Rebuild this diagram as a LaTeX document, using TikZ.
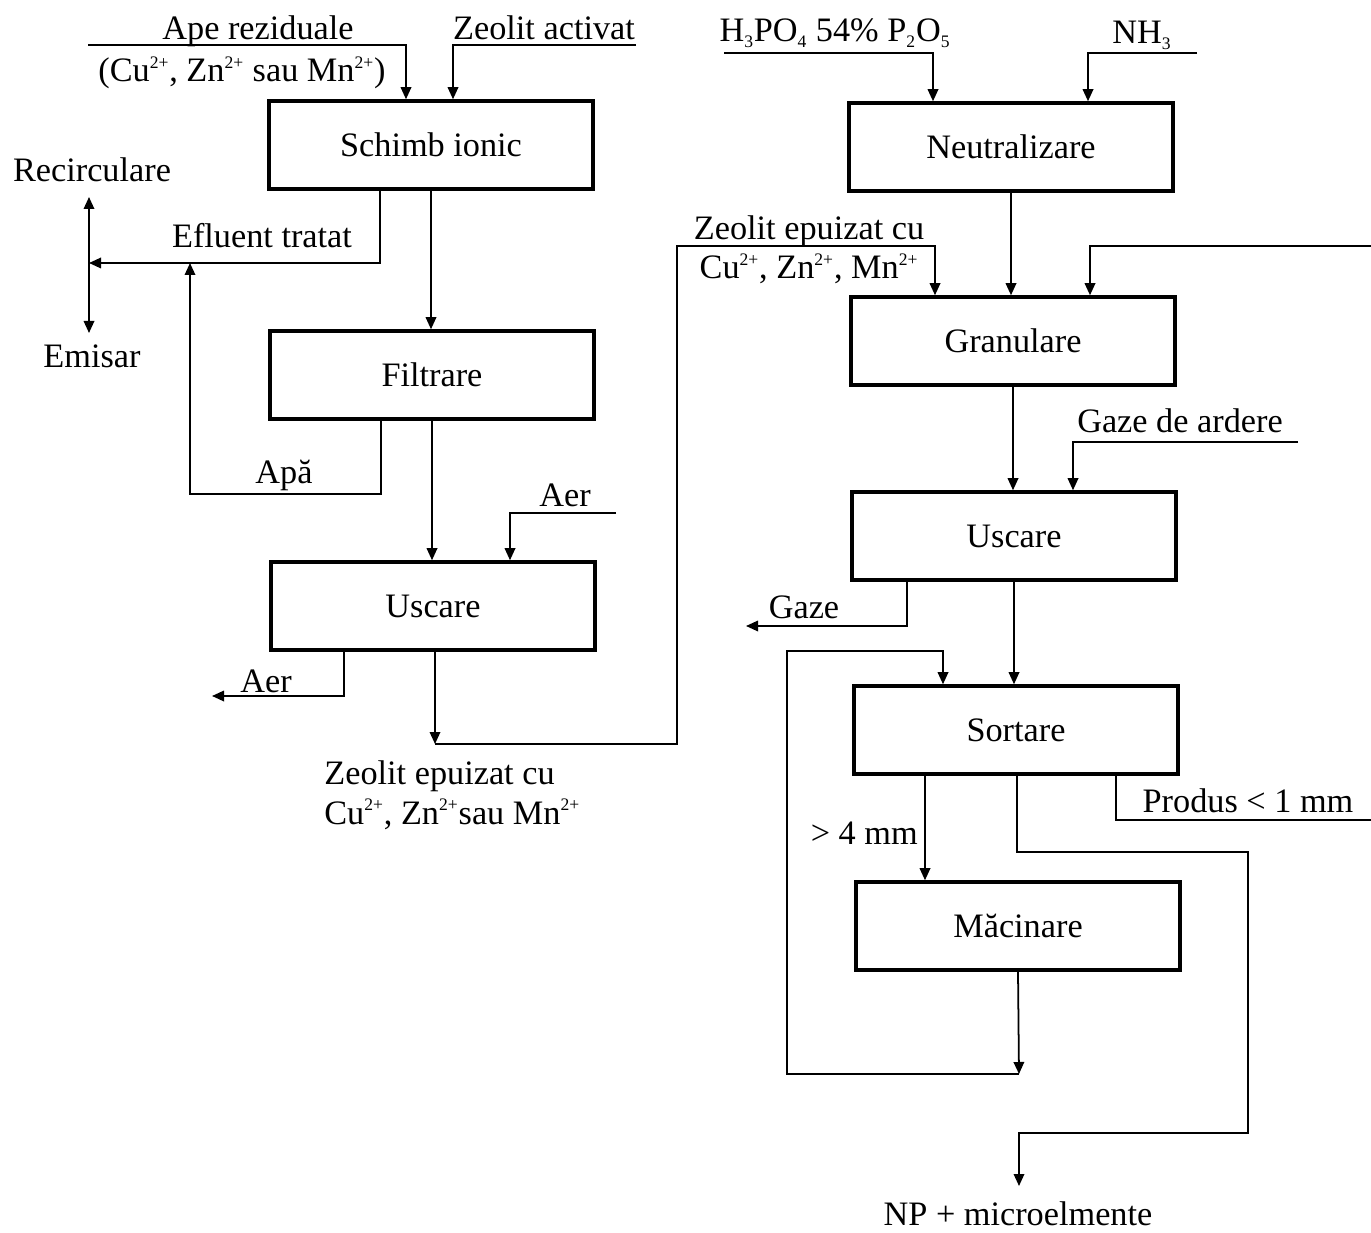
\documentclass[tikz,border=0pt]{standalone}
\usepackage{fontspec}
\setmainfont{Liberation Serif}
\usetikzlibrary{arrows.meta}
\newcommand\chg[1]{\textsuperscript{\fontsize{10}{10}\selectfont #1}}
\newcommand\idx[1]{\textsubscript{\fontsize{10}{10}\selectfont #1}}
\tikzset{
  txt/.style={font=\fontsize{19.5}{22}\selectfont},
  proc/.style={txt, draw, line width=2pt, minimum width=64.8mm, minimum height=17.6mm, inner sep=2pt},
  lbl/.style={txt, inner sep=0pt},
  flow/.style={line width=1pt},
  arr/.style={flow, -{Triangle[length=2.4mm, width=2.1mm]}},
}

\begin{document}
\begin{tikzpicture}[x=0.2mm, y=-0.2mm]
  \useasboundingbox (0,0) rectangle (1371,1233);

  % zeolite line
  \foreach \nm/\x/\y/\tx in {schimb/431/145/Schimb ionic, filtr/432/375/Filtrare, uscz/433/606/Uscare}
    \node[proc] (\nm) at (\x,\y) {\tx};
  % NP fertiliser line
  \foreach \nm/\x/\y/\tx in {neutr/1011/147/Neutralizare, gran/1013/341/Granulare, uscg/1014/536/Uscare, sort/1016/730/Sortare, macin/1018/926/Măcinare}
    \node[proc] (\nm) at (\x,\y) {\tx};

  % free ends
  \coordinate (apein) at (88,45);
  \coordinate (zeoin) at (636,45);
  \coordinate (split) at (89,263);
  \coordinate (recup) at (89,197);
  \coordinate (emisdn) at (89,333);
  \coordinate (apajoin) at (190,263);
  \coordinate (aerin) at (616,513);
  \coordinate (aerout) at (212,696);
  \coordinate (zout) at (435,744);
  \coordinate (zcorner) at (677,246);
  \coordinate (acidin) at (724,53);
  \coordinate (nh3in) at (1197,53);
  \coordinate (recin) at (1371,246);
  \coordinate (gazin) at (1298,442);
  \coordinate (gazout) at (746,626);
  \coordinate (mloop) at (1019,1074);
  \coordinate (lcorner) at (787,651);
  \coordinate (npturn) at (1248,852);
  \coordinate (npback) at (1019,1133);
  \coordinate (npout) at (1019,1186);
  \coordinate (prodout) at (1371,820);

  % labels
  \node[lbl, anchor=base] (lape) at (258,40) {Ape reziduale};
  \node[lbl, anchor=base] (lions) at (242,82) {(Cu\chg{2+}, Zn\chg{2+} sau Mn\chg{2+})};
  \node[lbl, anchor=base] (lzeo) at (544,40) {Zeolit activat};
  \node[lbl] (recirc) at (92,170) {Recirculare};
  \node[lbl] (emisar) at (92,356) {Emisar};
  \node[lbl, anchor=base] (lefl) at (262,248) {Efluent tratat};
  \node[lbl, anchor=base] (lapa) at (284,483) {Apă};
  \node[lbl, anchor=base] (laerin) at (565,506) {Aer};
  \node[lbl, anchor=base] (laerout) at (266,692) {Aer};
  \node[lbl, anchor=base west] (lzout1) at (324,784) {Zeolit epuizat cu};
  \node[lbl, anchor=base west] (lzout2) at (324,824) {Cu\chg{2+}, Zn\chg{2+}sau Mn\chg{2+}};
  \node[lbl, anchor=base] (lacid) at (835,42) {H\idx{3}PO\idx{4} 54\% P\idx{2}O\idx{5}};
  \node[lbl, anchor=base] (lnh3) at (1142,44) {NH\idx{3}};
  \node[lbl, anchor=base] (lzin1) at (809,240) {Zeolit epuizat cu};
  \node[lbl, anchor=base] (lzin2) at (809,279) {Cu\chg{2+}, Zn\chg{2+}, Mn\chg{2+}};
  \node[lbl, anchor=base] (lgazin) at (1180,432) {Gaze de ardere};
  \node[lbl, anchor=base] (lgazout) at (804,618) {Gaze};
  \node[lbl, anchor=base east] (lbig) at (918,844) {> 4 mm};
  \node[lbl, anchor=base] (lprod) at (1248,812) {Produs < 1 mm};
  \node[lbl, anchor=base] (lnp) at (1018,1225) {NP + microelmente};

  % zeolite connectors
  \draw[arr] (apein) -| (406,0 |- schimb.north);
  \draw[arr] (zeoin) -| (453,0 |- schimb.north);
  \draw[arr] (schimb.south -| 380,0) |- (split);
  \draw[arr] (split) -- (recup);
  \draw[arr] (split) -- (emisdn);
  \draw[arr] (schimb.south) -- (schimb.south |- filtr.north);
  \draw[arr] (filtr.south -| 381,0) -- ++(0,73) -| (apajoin);
  \draw[arr] (filtr.south) -- (filtr.south |- uscz.north);
  \draw[arr] (aerin) -| (510,0 |- uscz.north);
  \draw[arr] (uscz.south -| 344,0) |- (aerout);
  \draw[arr] (uscz.south -| 435,0) -- (zout);
  \draw[arr] (zout) -| (zcorner) -| (935,0 |- gran.north);

  % fertiliser connectors
  \draw[arr] (acidin) -| (933,0 |- neutr.north);
  \draw[arr] (nh3in) -| (1088,0 |- neutr.north);
  \draw[arr] (neutr.south) -- (neutr.south |- gran.north);
  \draw[arr] (recin) -| (1090,0 |- gran.north);
  \draw[arr] (gran.south) -- (gran.south |- uscg.north);
  \draw[arr] (gazin) -| (1073,0 |- uscg.north);
  \draw[arr] (uscg.south -| 907,0) |- (gazout);
  \draw[arr] (uscg.south) -- (uscg.south |- sort.north);
  \draw[arr] (sort.south -| 925,0) -- (925,0 |- macin.north);
  \draw[arr] (macin.south) -- (mloop);
  \draw[arr] (mloop) -| (lcorner) -| (943,0 |- sort.north);
  \draw[arr] (sort.south -| 1017,0) |- (npturn) |- (npback) -- (npout);
  \draw[flow] (sort.south -| 1116,0) |- (prodout);
\end{tikzpicture}
\end{document}
